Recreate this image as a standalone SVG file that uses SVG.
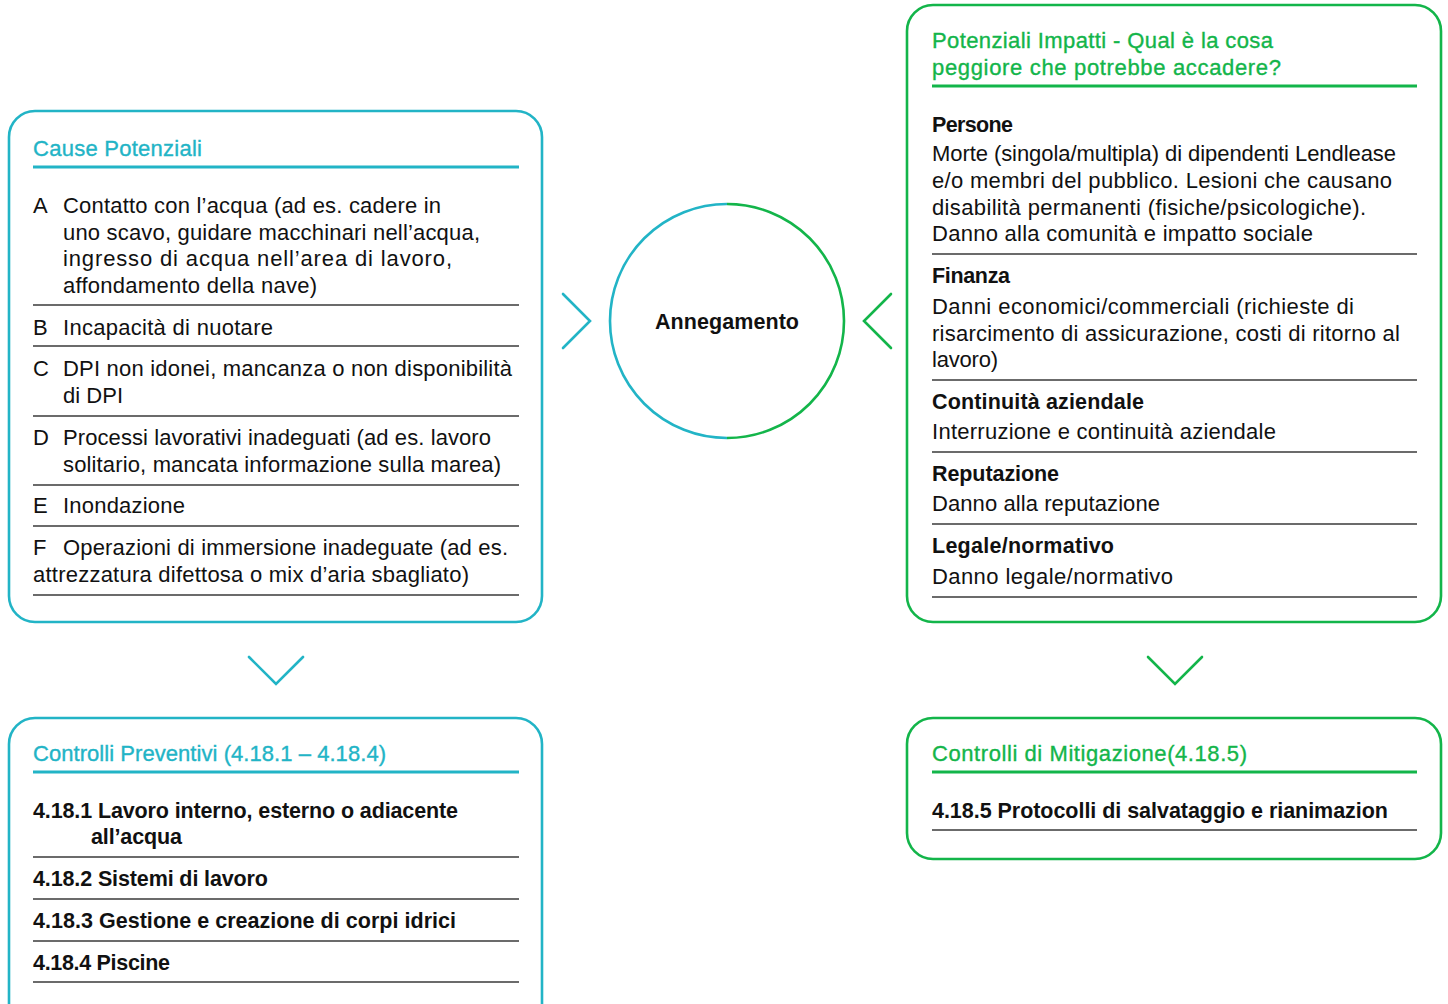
<svg xmlns="http://www.w3.org/2000/svg" width="1448" height="1004" viewBox="0 0 1448 1004">
  <style>
    text { font-family: "Liberation Sans", Arial, sans-serif; font-size: 22px; fill: #111; }
    .b { font-weight: bold; font-size: 21.5px; }
    .tt { fill: #22b4c6; stroke: #22b4c6; stroke-width: 0.35; }
    .tg { fill: #13b54a; stroke: #13b54a; stroke-width: 0.35; }
    .boxT { fill: none; stroke: #22b4c6; stroke-width: 2.6; }
    .boxG { fill: none; stroke: #13b54a; stroke-width: 2.6; }
    .ulT { stroke: #22b4c6; stroke-width: 3; }
    .ulG { stroke: #13b54a; stroke-width: 3; }
    .sep { stroke: #3a3a3a; stroke-width: 1.4; }
    .chevT { fill: none; stroke: #22b4c6; stroke-width: 2.6; stroke-linecap: round; stroke-linejoin: miter; }
    .chevG { fill: none; stroke: #13b54a; stroke-width: 2.6; stroke-linecap: round; stroke-linejoin: miter; }
  </style>

  <!-- Cause potenziali -->
  <g id="cause-potenziali">
    <rect class="boxT" x="9" y="111" width="533" height="511" rx="26"/>
    <text class="tt" x="33" y="156" textLength="169">Cause Potenziali</text>
    <line class="ulT" x1="33" y1="167" x2="519" y2="167"/>
    <text x="33" y="213">A</text>
    <text x="63" y="213" textLength="378">Contatto con l’acqua (ad es. cadere in</text>
    <text x="63" y="239.5" textLength="417">uno scavo, guidare macchinari nell’acqua,</text>
    <text x="63" y="266" textLength="389">ingresso di acqua nell’area di lavoro,</text>
    <text x="63" y="292.5" textLength="254">affondamento della nave)</text>
    <line class="sep" x1="33" y1="305" x2="519" y2="305"/>
    <text x="33" y="335">B</text>
    <text x="63" y="335" textLength="210">Incapacità di nuotare</text>
    <line class="sep" x1="33" y1="346" x2="519" y2="346"/>
    <text x="33" y="376">C</text>
    <text x="63" y="376" textLength="449">DPI non idonei, mancanza o non disponibilità</text>
    <text x="63" y="402.5" textLength="60">di DPI</text>
    <line class="sep" x1="33" y1="416" x2="519" y2="416"/>
    <text x="33" y="445">D</text>
    <text x="63" y="445" textLength="428">Processi lavorativi inadeguati (ad es. lavoro</text>
    <text x="63" y="472" textLength="438">solitario, mancata informazione sulla marea)</text>
    <line class="sep" x1="33" y1="485" x2="519" y2="485"/>
    <text x="33" y="513">E</text>
    <text x="63" y="513" textLength="122">Inondazione</text>
    <line class="sep" x1="33" y1="526" x2="519" y2="526"/>
    <text x="33" y="555">F</text>
    <text x="63" y="555" textLength="445">Operazioni di immersione inadeguate (ad es.</text>
    <text x="33" y="582" textLength="436">attrezzatura difettosa o mix d’aria sbagliato)</text>
    <line class="sep" x1="33" y1="595" x2="519" y2="595"/>
  </g>

  <!-- Evento centrale -->
  <g id="annegamento">
    <path d="M727 204 A117 117 0 0 0 727 438" fill="none" stroke="#22b4c6" stroke-width="2.6"/>
    <path d="M727 204 A117 117 0 0 1 727 438" fill="none" stroke="#13b54a" stroke-width="2.6"/>
    <text class="b" x="655" y="329" textLength="144">Annegamento</text>
  </g>

  <!-- Potenziali impatti -->
  <g id="potenziali-impatti">
    <rect class="boxG" x="907" y="5" width="534" height="617" rx="26"/>
    <text class="tg" x="932" y="48" textLength="341">Potenziali Impatti - Qual è la cosa</text>
    <text class="tg" x="932" y="75" textLength="349">peggiore che potrebbe accadere?</text>
    <line class="ulG" x1="932" y1="86" x2="1417" y2="86"/>

    <text class="b" x="932" y="132" textLength="81">Persone</text>
    <text x="932" y="161" textLength="464">Morte (singola/multipla) di dipendenti Lendlease</text>
    <text x="932" y="188" textLength="460">e/o membri del pubblico. Lesioni che causano</text>
    <text x="932" y="215" textLength="434">disabilità permanenti (fisiche/psicologiche).</text>
    <text x="932" y="241" textLength="381">Danno alla comunità e impatto sociale</text>
    <line class="sep" x1="932" y1="254" x2="1417" y2="254"/>

    <text class="b" x="932" y="283" textLength="78">Finanza</text>
    <text x="932" y="314" textLength="422">Danni economici/commerciali (richieste di</text>
    <text x="932" y="341" textLength="468">risarcimento di assicurazione, costi di ritorno al</text>
    <text x="932" y="367" textLength="66">lavoro)</text>
    <line class="sep" x1="932" y1="380" x2="1417" y2="380"/>

    <text class="b" x="932" y="409" textLength="212">Continuità aziendale</text>
    <text x="932" y="439" textLength="344">Interruzione e continuità aziendale</text>
    <line class="sep" x1="932" y1="452" x2="1417" y2="452"/>

    <text class="b" x="932" y="481" textLength="127">Reputazione</text>
    <text x="932" y="511" textLength="228">Danno alla reputazione</text>
    <line class="sep" x1="932" y1="524" x2="1417" y2="524"/>

    <text class="b" x="932" y="553" textLength="182">Legale/normativo</text>
    <text x="932" y="584" textLength="241">Danno legale/normativo</text>
    <line class="sep" x1="932" y1="597" x2="1417" y2="597"/>
  </g>

  <!-- Controlli preventivi -->
  <g id="controlli-preventivi">
    <rect class="boxT" x="9" y="718" width="533" height="320" rx="26"/>
    <text class="tt" x="33" y="761" textLength="353">Controlli Preventivi (4.18.1 – 4.18.4)</text>
    <line class="ulT" x1="33" y1="772" x2="519" y2="772"/>
    <text class="b" x="33" y="818" textLength="425">4.18.1 Lavoro interno, esterno o adiacente</text>
    <text class="b" x="91" y="844" textLength="91">all’acqua</text>
    <line class="sep" x1="33" y1="857" x2="519" y2="857"/>
    <text class="b" x="33" y="886" textLength="235">4.18.2 Sistemi di lavoro</text>
    <line class="sep" x1="33" y1="899" x2="519" y2="899"/>
    <text class="b" x="33" y="928" textLength="423">4.18.3 Gestione e creazione di corpi idrici</text>
    <line class="sep" x1="33" y1="941" x2="519" y2="941"/>
    <text class="b" x="33" y="970" textLength="137">4.18.4 Piscine</text>
    <line class="sep" x1="33" y1="982" x2="519" y2="982"/>
  </g>

  <!-- Controlli di mitigazione -->
  <g id="controlli-mitigazione">
    <rect class="boxG" x="907" y="718" width="534" height="141" rx="26"/>
    <text class="tg" x="932" y="761" textLength="315">Controlli di Mitigazione(4.18.5)</text>
    <line class="ulG" x1="932" y1="772" x2="1417" y2="772"/>
    <text class="b" x="932" y="818" textLength="456">4.18.5 Protocolli di salvataggio e rianimazion</text>
    <line class="sep" x1="932" y1="830" x2="1417" y2="830"/>
  </g>

  <!-- Connettori (chevron) -->
  <g id="connettori">
    <polyline class="chevT" points="563,294 590,321 563,348"/>
    <polyline class="chevG" points="891,294 864,321 891,348"/>
    <polyline class="chevT" points="249,657 276,684 303,657"/>
    <polyline class="chevG" points="1148,657 1175,684 1202,657"/>
  </g>
</svg>
